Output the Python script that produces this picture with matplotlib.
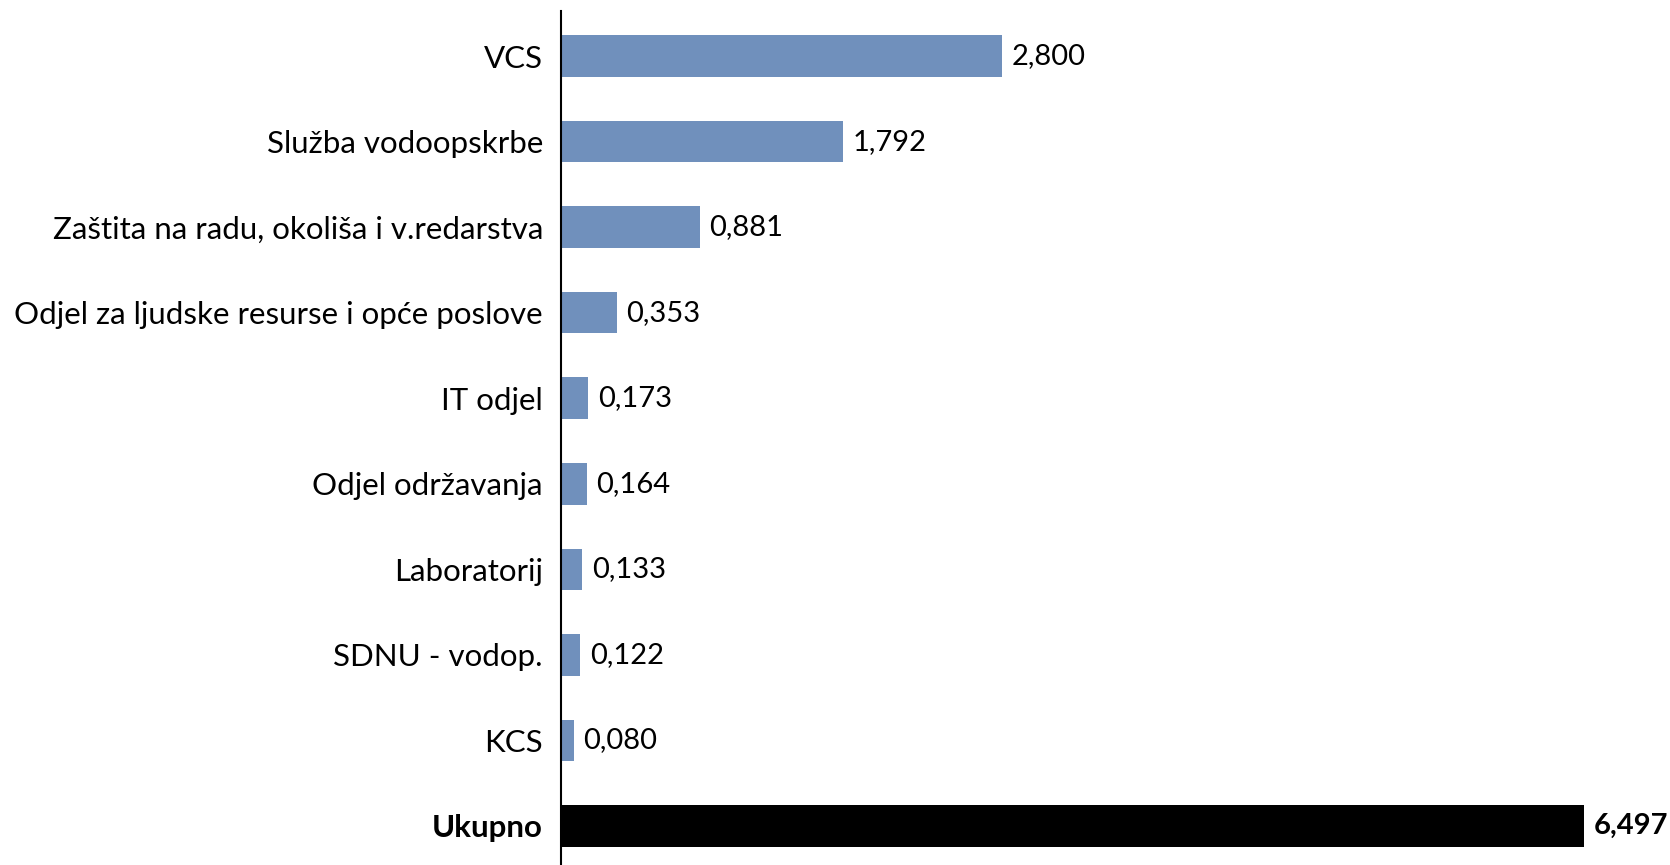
import matplotlib
matplotlib.use("Agg")
import matplotlib.pyplot as plt

categories = ["VCS", "Služba vodoopskrbe", "Zaštita na radu, okoliša i v.redarstva",
              "Odjel za ljudske resurse i opće poslove", "IT odjel", "Odjel održavanja",
              "Laboratorij", "SDNU - vodop.", "KCS", "Ukupno"]
values = [2.800, 1.792, 0.881, 0.353, 0.173, 0.164, 0.133, 0.122, 0.080, 6.497]
value_labels = ["2,800", "1,792", "0,881", "0,353", "0,173", "0,164", "0,133", "0,122", "0,080", "6,497"]

plt.rcParams['font.family'] = ['Lato', 'DejaVu Sans']

fig = plt.figure(figsize=(16.7, 8.65), dpi=100)
ax = fig.add_axes([561/1670, 0, 1 - 561/1670, (865 - 11) / 865])

colors = ["#7090BC"] * (len(values) - 1) + ["#000000"]
y = list(range(len(values)))
ax.barh(y, values, height=0.485, color=colors)

ax.set_ylim(9 + 0.456, -0.526)
ax.set_xlim(0, (1670 - 561) / 157.5)

ax.set_yticks(y)
ax.set_yticklabels(categories, fontsize=22.5)
ax.get_yticklabels()[-1].set_fontweight('bold')
ax.tick_params(axis='y', length=0, pad=13)
ax.set_xticks([])

for s in ['top', 'right', 'bottom']:
    ax.spines[s].set_visible(False)
ax.spines['left'].set_linewidth(1.5)
ax.spines['left'].set_color('black')

for i, (v, lab) in enumerate(zip(values, value_labels)):
    ax.annotate(lab, (v, i), xytext=(7, 0), textcoords='offset points',
                va='center', ha='left', fontsize=21,
                fontweight='bold' if i == len(values) - 1 else 'normal',
                annotation_clip=False, clip_on=False)

fig.savefig("out.png", dpi=100)
